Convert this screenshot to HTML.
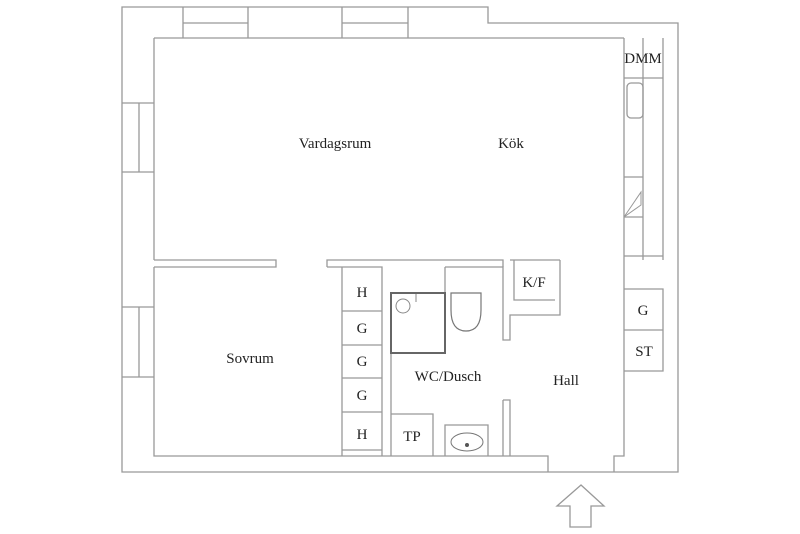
<!DOCTYPE html>
<html><head><style>
html,body{margin:0;padding:0;background:#fff;}
svg{display:block;}
text{font-family:"Liberation Serif",serif;font-size:15px;fill:#222;text-anchor:middle;}
</style></head><body>
<svg width="800" height="534" viewBox="0 0 800 534">
<g fill="none" stroke="#999" stroke-width="1.3">
<path d="M122 7 H488 V23 H678 V472 H122 Z"/>
<path d="M154 38 H624 M154 38 V260 M154 267 V456 H548 V472 M614 472 V456 H624 V260"/>
<path d="M183 7 V38 M248 7 V38 M183 23 H248 M342 7 V38 M408 7 V38 M342 23 H408"/>
<path d="M122 103 H154 M122 172 H154 M139 103 V172 M122 307 H154 M122 377 H154 M139 307 V377"/>
<path d="M154 260 H276 V267 H154"/>
<path d="M327 267 V260 H503 V267 M327 267 H342"/>
<path d="M342 267 H382 V456 M342 267 V456 M342 311 H382 M342 345 H382 M342 378 H382 M342 412 H382 M342 450 H382"/>
<path d="M391 293 V456 M445 267 V293 M445 267 H503 V340 H510 V315 H560 V260 M503 400 H510 V456 M503 400 V456"/>
<path d="M510 260 H560 M514 260 V300 H555"/>
<path d="M391 414 H433 V456 M445 456 V425 H488 V456"/>
<path d="M624 38 V260 M643 38 V260 M663 38 V260 M624 78 H663 M624 256 H663 M624 177 H643 M624 217 H643"/>
<path d="M624 217 L641 192 L641 205 Z" stroke-width="1"/>
<rect x="627" y="83" width="16" height="35" rx="4"/>
<path d="M624 289 H663 V371 H624 M624 330 H663"/>
<path d="M581 485 L604 506 H591 V527 H570 V506 H557 Z"/>
</g>
<rect x="391" y="293" width="54" height="60" fill="none" stroke="#666" stroke-width="2"/>
<circle cx="403" cy="306" r="7" fill="none" stroke="#888"/>
<path d="M416 294 v8" stroke="#888"/>
<path d="M451 293 H481 V310 Q481 331 466 331 Q451 331 451 310 Z" fill="none" stroke="#777" stroke-width="1.2"/>
<ellipse cx="467" cy="442" rx="16" ry="9" fill="none" stroke="#777"/>
<circle cx="467" cy="445" r="2" fill="#555"/>
<text x="335" y="148">Vardagsrum</text>
<text x="511" y="148">Kök</text>
<text x="250" y="363">Sovrum</text>
<text x="448" y="381">WC/Dusch</text>
<text x="566" y="385">Hall</text>
<text x="534" y="287">K/F</text>
<text x="643" y="63">DMM</text>
<text x="643" y="315">G</text>
<text x="644" y="356">ST</text>
<text x="362" y="297">H</text>
<text x="362" y="333">G</text>
<text x="362" y="366">G</text>
<text x="362" y="400">G</text>
<text x="362" y="439">H</text>
<text x="412" y="441">TP</text>
</svg>
</body></html>
